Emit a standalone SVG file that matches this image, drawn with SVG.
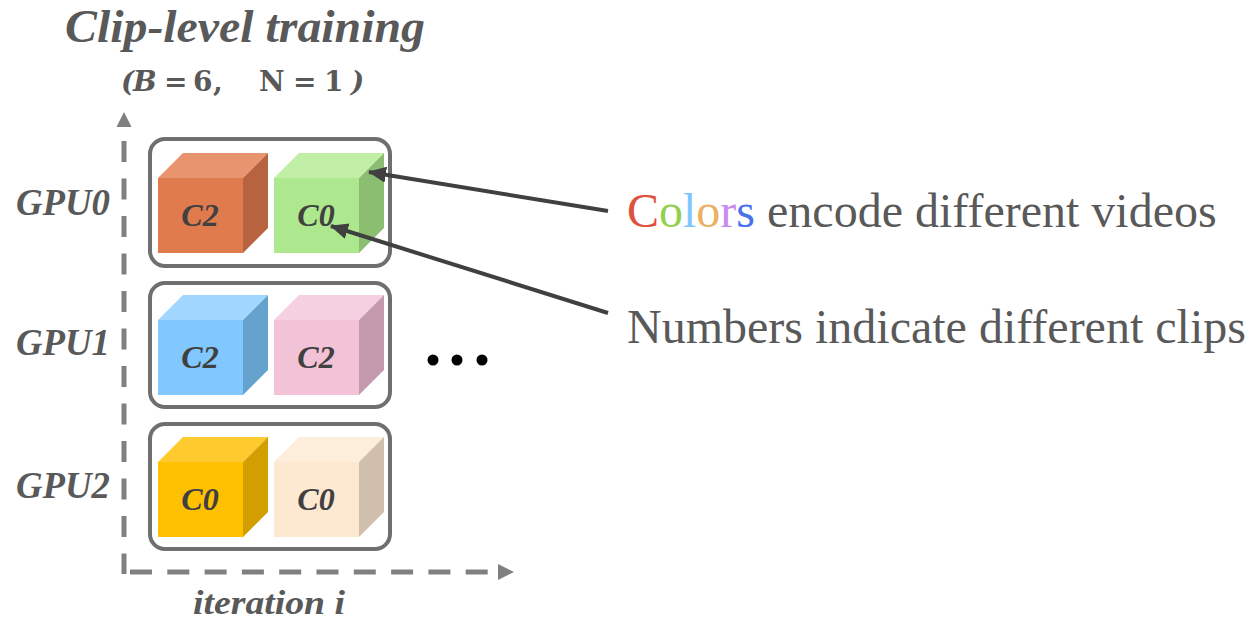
<svg xmlns="http://www.w3.org/2000/svg" width="1253" height="621" viewBox="0 0 1253 621">
  <style>
    .title { font-family: "Liberation Serif", serif; font-weight: bold; font-style: italic; fill: #595959; }
    .math { font-family: "DejaVu Serif", "Liberation Serif", serif; font-weight: bold; font-style: italic; font-size: 28px; fill: #595959; }
    .gpu { font-family: "Liberation Serif", serif; font-weight: bold; font-style: italic; font-size: 37px; fill: #595959; }
    .clip { font-family: "Liberation Serif", serif; font-weight: bold; font-style: italic; font-size: 32px; fill: #404040; text-anchor: middle; }
    .note { font-family: "Liberation Serif", serif; font-size: 48px; fill: #595959; }
    .group { fill: none; stroke: #6f6f6f; stroke-width: 4; }
    .axis { fill: none; stroke: #808080; stroke-width: 5; }
    .link { fill: none; stroke: #404040; stroke-width: 4; }
    .up { font-style: normal; }
  </style>
  <defs>
    <marker id="head" markerUnits="userSpaceOnUse" markerWidth="20" markerHeight="16" refX="17" refY="8" orient="auto">
      <path d="M0,0 L18,8 L0,16 Z" fill="#404040"/>
    </marker>
  </defs>

  <!-- titles -->
  <text class="title" x="65" y="42" font-size="47" textLength="360" lengthAdjust="spacingAndGlyphs">Clip-level training</text>
  <text class="math" y="91"><tspan x="121">(</tspan><tspan x="133">B</tspan><tspan class="up" x="164">=</tspan><tspan class="up" x="193">6</tspan><tspan class="up" x="213">,</tspan><tspan class="up" x="259">N</tspan><tspan class="up" x="293">=</tspan><tspan class="up" x="324">1</tspan><tspan x="351">)</tspan></text>

  <!-- axes -->
  <g id="axes">
    <path class="axis" d="M124,141 L124,574" stroke-dasharray="21 16.5"/>
    <path class="axis" d="M130,572 L498,572" stroke-dasharray="22 15.3"/>
    <path d="M116.5,127 L124,112 L131.5,127 Z" fill="#808080"/>
    <path d="M498,564 L514,572 L498,580 Z" fill="#808080"/>
    <text class="title" x="193" y="614" font-size="33" textLength="152" lengthAdjust="spacingAndGlyphs">iteration i</text>
  </g>

  <!-- GPU0 -->
  <g id="gpu0">
    <text class="gpu" x="16" y="215" textLength="94" lengthAdjust="spacingAndGlyphs">GPU0</text>
    <rect class="group" x="150" y="139" width="240" height="127" rx="15"/>
    <g transform="translate(158,153)">
      <path d="M0,25 L25,0 L110,0 L85,25 Z" fill="#E8946E"/>
      <path d="M85,25 L110,0 L110,75 L85,100 Z" fill="#B8633F"/>
      <rect x="0" y="25" width="85" height="75" fill="#E07B4E"/>
      <text class="clip" x="42" y="73">C2</text>
    </g>
    <g transform="translate(274,153)">
      <path d="M0,25 L25,0 L110,0 L85,25 Z" fill="#C2EFA6"/>
      <path d="M85,25 L110,0 L110,75 L85,100 Z" fill="#8BBE70"/>
      <rect x="0" y="25" width="85" height="75" fill="#AEE88E"/>
      <text class="clip" x="42" y="73">C0</text>
    </g>
  </g>

  <!-- GPU1 -->
  <g id="gpu1">
    <text class="gpu" x="16" y="355" textLength="94" lengthAdjust="spacingAndGlyphs">GPU1</text>
    <rect class="group" x="150" y="283" width="240" height="124" rx="15"/>
    <g transform="translate(158,295)">
      <path d="M0,25 L25,0 L110,0 L85,25 Z" fill="#A0D6FF"/>
      <path d="M85,25 L110,0 L110,75 L85,100 Z" fill="#66A2CE"/>
      <rect x="0" y="25" width="85" height="75" fill="#80C8FF"/>
      <text class="clip" x="42" y="73">C2</text>
    </g>
    <g transform="translate(274,295)">
      <path d="M0,25 L25,0 L110,0 L85,25 Z" fill="#F4D0E0"/>
      <path d="M85,25 L110,0 L110,75 L85,100 Z" fill="#C59AAE"/>
      <rect x="0" y="25" width="85" height="75" fill="#F2C2D6"/>
      <text class="clip" x="42" y="73">C2</text>
    </g>
    <circle cx="433" cy="360" r="5.5" fill="#000"/>
    <circle cx="457" cy="360" r="5.5" fill="#000"/>
    <circle cx="482" cy="360" r="5.5" fill="#000"/>
  </g>

  <!-- GPU2 -->
  <g id="gpu2">
    <text class="gpu" x="16" y="498" textLength="94" lengthAdjust="spacingAndGlyphs">GPU2</text>
    <rect class="group" x="150" y="424" width="240" height="125" rx="15"/>
    <g transform="translate(158,437)">
      <path d="M0,25 L25,0 L110,0 L85,25 Z" fill="#FFCA2E"/>
      <path d="M85,25 L110,0 L110,75 L85,100 Z" fill="#D29E00"/>
      <rect x="0" y="25" width="85" height="75" fill="#FFC000"/>
      <text class="clip" x="42" y="73">C0</text>
    </g>
    <g transform="translate(274,437)">
      <path d="M0,25 L25,0 L110,0 L85,25 Z" fill="#FDEEDC"/>
      <path d="M85,25 L110,0 L110,75 L85,100 Z" fill="#D1BFAE"/>
      <rect x="0" y="25" width="85" height="75" fill="#FDE9D2"/>
      <text class="clip" x="42" y="73">C0</text>
    </g>
  </g>

  <!-- legend notes -->
  <g id="note-colors">
    <text class="note" x="627" y="227"><tspan fill="#E0503C">C</tspan><tspan fill="#92D050">o</tspan><tspan fill="#7FC6FF">l</tspan><tspan fill="#EBB062">o</tspan><tspan fill="#C98BEE">r</tspan><tspan fill="#4A72EA">s</tspan> encode different videos</text>
  </g>
  <g id="note-numbers">
    <text class="note" x="627" y="343">Numbers indicate different clips</text>
  </g>

  <!-- connectors -->
  <g id="connectors">
    <path class="link" d="M608,211 L369,172" marker-end="url(#head)"/>
    <path class="link" d="M608,313 L331,226" marker-end="url(#head)"/>
  </g>
</svg>
